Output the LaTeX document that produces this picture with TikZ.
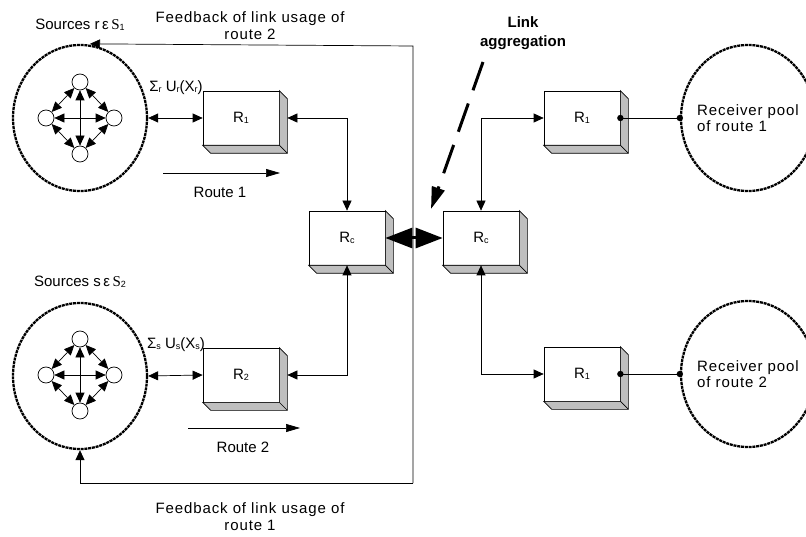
\documentclass[tikz,border=0pt]{standalone}
\usepackage{fontspec}
\setmainfont{Liberation Sans}
\newfontfamily\lsfont[LetterSpace=6]{Liberation Sans}
\newfontfamily\symS{Liberation Serif}
\usetikzlibrary{arrows.meta,shapes.geometric}
\newcommand\sbs[1]{\raisebox{-1pt}{\fontsize{9}{9}\selectfont #1}}
\newcommand\cubeside[1]{%
  \filldraw[fill=black!25,line width=0.7pt] (#1.north east) -- ([shift={(8,8)}]#1.north east) -- ([shift={(8,8)}]#1.south east) -- ([shift={(8,8)}]#1.south west) -- (#1.south west) -- (#1.south east) -- cycle;
  \draw[line width=0.7pt] (#1.south east) -- ([shift={(8,8)}]#1.south east);}
\begin{document}
\begin{tikzpicture}[x=1pt,y=-1pt,
  every node/.style={font=\fontsize{15}{18}\selectfont},
  cube/.style={draw, fill=white, minimum width=76pt, minimum height=54pt, inner sep=0pt, line width=0.7pt},
  pool/.style={draw, ellipse, minimum width=134pt, minimum height=146pt, inner sep=0pt, line width=2.3pt, dash pattern=on 3pt off 0.8pt},
  member/.style={draw, circle, minimum size=16pt, inner sep=0pt, fill=white, line width=0.7pt},
  link/.style={line width=0.7pt, >={Triangle[length=10pt,width=9pt]}},
  route/.style={line width=0.7pt, -{Triangle[length=14pt,width=8pt]}},
  lbl/.style={inner sep=0pt, align=center}]
\useasboundingbox (0,0) rectangle (806,537);

% pools
\node[pool] (src1) at (80,118) {};
\node[pool] (src2) at (80,376) {};
\node[pool] (rec1) at (748,118) {};
\node[pool] (rec2) at (748,374) {};
\node[lbl, anchor=west, align=left] (rec1t) at (697,118) {\lsfont Receiver pool\\[-2pt]\lsfont of route 1};
\node[lbl, anchor=west, align=left] (rec2t) at (697,374) {\lsfont Receiver pool\\[-2pt]\lsfont of route 2};

% members of source pools
\node[member] (a1t) at (80,82) {};
\node[member] (a1l) at (46,118) {};
\node[member] (a1r) at (114,118) {};
\node[member] (a1b) at (80,154) {};
\node[member] (a2t) at (80,339) {};
\node[member] (a2l) at (46,375) {};
\node[member] (a2r) at (114,375) {};
\node[member] (a2b) at (80,411) {};
\foreach \p in {1,2}{
  \draw[link,<->] (a\p l) -- (a\p r);
  \draw[link,<->] (a\p t) -- (a\p b);
  \draw[link,<->] (a\p t) -- (a\p l);
  \draw[link,<->] (a\p t) -- (a\p r);
  \draw[link,<->] (a\p b) -- (a\p l);
  \draw[link,<->] (a\p b) -- (a\p r);
}

% labels of sources
\node[lbl] (s1lab) at (80,25) {Sources r\,ε\,{\symS S}\sbs{1}};
\node[lbl] (s2lab) at (80,282) {Sources s\,ε\,{\symS S}\sbs{2}};

% routers
\node[cube] (R1L) at (241,118) {R\sbs{1}};
\node[cube] (R2) at (241,375) {R\sbs{2}};
\node[cube] (RcL) at (347,238) {R\sbs{c}};
\node[cube] (RcR) at (481,238) {R\sbs{c}};
\node[cube] (R1a) at (582,118) {R\sbs{1}};
\node[cube] (R1b) at (582,374) {R\sbs{1}};
\foreach \n in {R1L,R2,RcL,RcR,R1a,R1b}{\cubeside{\n}}

% utility labels
\node[lbl] (u1) at (176,88) {Σ\sbs{r} U\sbs{r}(X\sbs{r})};
\node[lbl] (u2) at (176,345) {Σ\sbs{s} U\sbs{s}(X\sbs{s})};

% source to router links
\draw[link,<->] (src1.east) -- (R1L.west);
\draw[link,<->] (src2.east) -- (R2.west);
\draw[link,<->] (RcL.north) |- ([xshift=8pt]R1L.east);
\draw[link,<->] (RcL.south) |- ([xshift=8pt]R2.east);
\draw[link,<->] (RcR.north) |- (R1a.west);
\draw[link,<->] (RcR.south) |- (R1b.west);

% receivers
\draw[line width=0.7pt] (R1a.east) -- (rec1.west);
\draw[line width=0.7pt] (R1b.east) -- (rec2.west);
\fill (R1a.east) circle (3.2pt);
\fill (rec1.west) circle (3.2pt);
\fill (R1b.east) circle (3.2pt);
\fill (rec2.west) circle (3.2pt);

% routes
\coordinate (r1s) at (163,173);
\coordinate (r1e) at (280,173);
\draw[route] (r1s) -- (r1e);
\node[lbl] (r1lab) at (220,192) {Route 1};
\coordinate (r2s) at (188,428);
\coordinate (r2e) at (300,428);
\draw[route] (r2s) -- (r2e);
\node[lbl] (r2lab) at (243,447) {Route 2};

% feedback
\coordinate (fbt) at (413,46);
\coordinate (fbb) at (413,483);
\draw[link,->] (fbb) -- (fbt) -- ([xshift=10pt]src1.north);
\draw[link,->] (fbb) -| (src2.south);
\node[lbl] (fb2) at (250,26) {\lsfont Feedback of link usage of\\[-1pt]\lsfont route 2};
\node[lbl] (fb1) at (250,517) {\lsfont Feedback of link usage of\\[-1pt]\lsfont route 1};

% aggregation
\draw[line width=3pt, {Triangle[length=27pt,width=20pt]}-{Triangle[length=27pt,width=20pt]}] (RcL.east) -- (RcR.west);
\node[lbl, font=\fontsize{15}{19}\selectfont\bfseries] (lag) at (523,33) {Link\\aggregation};
\coordinate (lagS) at (483,62);
\coordinate (lagE) at (431,209);
\draw[line width=3pt, dash pattern=on 30pt off 14pt, -{Triangle[length=22pt,width=13pt]}] (lagS) -- (lagE);
\end{tikzpicture}
\end{document}
